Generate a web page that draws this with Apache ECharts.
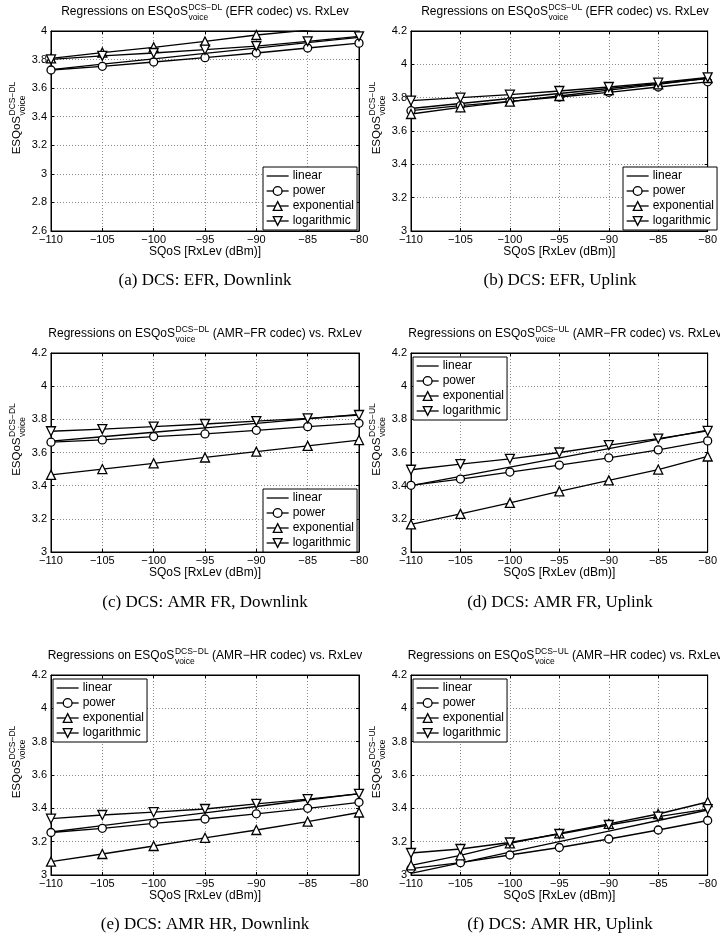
<!DOCTYPE html>
<html>
<head>
<meta charset="utf-8">
<script src="https://cdn.jsdelivr.net/npm/echarts@6.0.0/dist/echarts.min.js"></script>
<style>
  html, body { margin: 0; padding: 0; background: #fff; }
  #chart { width: 720px; height: 945px; }
</style>
</head>
<body>
<div id="chart"></div>
<script>
/* x positions shared by every panel */
const rxLev = [-110, -105, -100, -95, -90, -85, -80];

/* (a) EFR, downlink */
const efrDlLinear = [3.73, 3.768, 3.805, 3.843, 3.88, 3.918, 3.955];
const efrDlPower  = [3.727, 3.753, 3.783, 3.813, 3.846, 3.881, 3.915];
const efrDlExp    = [3.808, 3.849, 3.886, 3.927, 3.972, 4.006, 4.05];
const efrDlLog    = [3.801, 3.826, 3.846, 3.869, 3.894, 3.928, 3.963];

/* (b) EFR, uplink */
const efrUlLinear = [3.735, 3.765, 3.795, 3.825, 3.855, 3.885, 3.915];
const efrUlPower  = [3.722, 3.752, 3.778, 3.804, 3.832, 3.864, 3.895];
const efrUlExp    = [3.702, 3.742, 3.776, 3.81, 3.845, 3.88, 3.918];
const efrUlLog    = [3.782, 3.8, 3.818, 3.84, 3.864, 3.89, 3.922];

/* (c) AMR FR, downlink */
const fullDlLinear = [3.668, 3.695, 3.722, 3.749, 3.776, 3.803, 3.83];
const fullDlPower  = [3.662, 3.676, 3.696, 3.712, 3.734, 3.756, 3.776];
const fullDlExp    = [3.465, 3.5, 3.535, 3.57, 3.605, 3.64, 3.675];
const fullDlLog    = [3.728, 3.741, 3.756, 3.772, 3.789, 3.806, 3.826];

/* (d) AMR FR, uplink */
const fullUlLinear = [3.4, 3.456, 3.512, 3.568, 3.623, 3.679, 3.735];
const fullUlPower  = [3.402, 3.44, 3.482, 3.524, 3.568, 3.616, 3.67];
const fullUlExp    = [3.166, 3.23, 3.296, 3.366, 3.432, 3.497, 3.576];
const fullUlLog    = [3.496, 3.53, 3.562, 3.6, 3.645, 3.684, 3.73];

/* (e) AMR HR, downlink */
const halfDlLinear = [3.258, 3.296, 3.335, 3.373, 3.411, 3.45, 3.488];
const halfDlPower  = [3.255, 3.28, 3.31, 3.336, 3.367, 3.4, 3.436];
const halfDlExp    = [3.08, 3.126, 3.174, 3.223, 3.27, 3.32, 3.375];
const halfDlLog    = [3.338, 3.36, 3.377, 3.396, 3.427, 3.455, 3.487];

/* (f) AMR HR, uplink */
const halfUlLinear = [3.01, 3.073, 3.137, 3.2, 3.263, 3.327, 3.39];
const halfUlPower  = [3.038, 3.074, 3.12, 3.165, 3.216, 3.27, 3.327];
const halfUlExp    = [3.058, 3.118, 3.19, 3.25, 3.307, 3.366, 3.438];
const halfUlLog    = [3.132, 3.156, 3.195, 3.246, 3.3, 3.35, 3.395];

const fitNames = ['linear', 'power', 'exponential', 'logarithmic'];

const panels = [
  { codec: 'EFR',     dir: 'DL', caption: '(a) DCS: EFR, Downlink',    yMin: 2.6, yMax: 4,   fits: [efrDlLinear, efrDlPower, efrDlExp, efrDlLog] },
  { codec: 'EFR',     dir: 'UL', caption: '(b) DCS: EFR, Uplink',      yMin: 3,   yMax: 4.2, fits: [efrUlLinear, efrUlPower, efrUlExp, efrUlLog] },
  { codec: 'AMR−FR',  dir: 'DL', caption: '(c) DCS: AMR FR, Downlink', yMin: 3,   yMax: 4.2, fits: [fullDlLinear, fullDlPower, fullDlExp, fullDlLog] },
  { codec: 'AMR−FR',  dir: 'UL', caption: '(d) DCS: AMR FR, Uplink',   yMin: 3,   yMax: 4.2, fits: [fullUlLinear, fullUlPower, fullUlExp, fullUlLog] },
  { codec: 'AMR−HR',  dir: 'DL', caption: '(e) DCS: AMR HR, Downlink', yMin: 3,   yMax: 4.2, fits: [halfDlLinear, halfDlPower, halfDlExp, halfDlLog] },
  { codec: 'AMR−HR',  dir: 'UL', caption: '(f) DCS: AMR HR, Uplink',   yMin: 3,   yMax: 4.2, fits: [halfUlLinear, halfUlPower, halfUlExp, halfUlLog] }
];

const boxes = [
  { left: 51,  top: 31,  width: 308, height: 200, legend: [263, 167], capX: 205 },
  { left: 411, top: 31,  width: 308, height: 200, legend: [623, 167], capX: 560 },
  { left: 51,  top: 353, width: 308, height: 199, legend: [263, 489], capX: 205 },
  { left: 411, top: 353, width: 308, height: 199, legend: [413, 357], capX: 560 },
  { left: 51,  top: 675, width: 308, height: 200, legend: [53, 679],  capX: 205 },
  { left: 411, top: 675, width: 308, height: 200, legend: [413, 679], capX: 560 }
];

const SANS = '"Liberation Sans", Arial, Helvetica, sans-serif';
const SERIF = '"Liberation Serif", "Times New Roman", serif';
const MINUS = '\u2212';
const LW = 1.3;   // line / marker stroke

/* canvas text metrics, so the sub/superscripts can be placed by hand */
const meas = document.createElement('canvas').getContext('2d');
function textWidth(str, size, family) {
  meas.font = size + 'px ' + (family || SANS);
  return meas.measureText(str).width;
}

function txt(str, x, y, size, family) {
  return {
    type: 'text', x: x, y: y, silent: true,
    style: {
      text: str, font: size + 'px ' + (family || SANS), fill: '#000',
      align: 'left', verticalAlign: 'middle',
      textAlign: 'left', textVerticalAlign: 'middle'
    }
  };
}

/* "pre" + stacked sup/sub + "post", origin at left edge / text middle */
function scripted(pre, sup, sub, post, main, small) {
  const wPre = textWidth(pre, main);
  const wScr = Math.max(textWidth(sup, small), textWidth(sub, small));
  const children = [
    txt(pre, 0, 0, main),
    txt(sup, wPre + 0.5, -4.5, small),
    txt(sub, wPre + 0.5, 5.5, small)
  ];
  let width = wPre + 0.5 + wScr;
  if (post) {
    const gap = textWidth(' ', main);
    children.push(txt(post, width + gap, 0, main));
    width += gap + textWidth(post, main);
  }
  return { width: width, children: children };
}

const grid = [], xAxis = [], yAxis = [], series = [], legend = [], graphic = [];

const tickStyle = { inside: true, length: 3, lineStyle: { color: '#000', width: 1 } };
const lineAxis = { show: true, onZero: false, lineStyle: { color: '#000', width: 1 } };
const gridLine = { show: true, lineStyle: { color: '#8a8a8a', width: 1, type: [1, 2] } };

panels.forEach((p, i) => {
  const b = boxes[i];
  grid.push({
    left: b.left, top: b.top, width: b.width, height: b.height,
    show: true, borderColor: '#000', borderWidth: 1, backgroundColor: '#fff'
  });

  xAxis.push({
    gridIndex: i, type: 'value', position: 'bottom',
    min: -110, max: -80, interval: 5,
    axisLine: lineAxis, axisTick: tickStyle, splitLine: gridLine,
    axisLabel: {
      margin: 3, color: '#000', fontSize: 11, fontFamily: SANS,
      formatter: v => String(v).replace('-', MINUS)
    },
    name: 'SQoS [RxLev (dBm)]', nameLocation: 'middle', nameGap: 13,
    nameTextStyle: { color: '#000', fontSize: 12, fontFamily: SANS }
  });
  xAxis.push({
    gridIndex: i, type: 'value', position: 'top',
    min: -110, max: -80, interval: 5,
    axisLine: lineAxis, axisTick: tickStyle,
    axisLabel: { show: false }, splitLine: { show: false }
  });

  yAxis.push({
    gridIndex: i, type: 'value', position: 'left',
    min: p.yMin, max: p.yMax, interval: 0.2,
    axisLine: lineAxis, axisTick: tickStyle, splitLine: gridLine,
    axisLabel: {
      margin: 4, color: '#000', fontSize: 11, fontFamily: SANS,
      formatter: v => String(+v.toFixed(1))
    }
  });
  yAxis.push({
    gridIndex: i, type: 'value', position: 'right',
    min: p.yMin, max: p.yMax, interval: 0.2,
    axisLine: lineAxis, axisTick: tickStyle,
    axisLabel: { show: false }, splitLine: { show: false }
  });

  p.fits.forEach((vals, k) => {
    series.push({
      type: 'line', name: fitNames[k],
      xAxisIndex: 2 * i, yAxisIndex: 2 * i,
      data: rxLev.map((x, j) => [x, vals[j]]),
      symbol: k === 0 ? 'none' : (k === 1 ? 'circle' : 'triangle'),
      symbolSize: k === 1 ? 8 : 9,
      symbolRotate: k === 3 ? 180 : 0,
      showSymbol: k !== 0,
      lineStyle: { color: '#000', width: LW },
      itemStyle: { color: '#fff', borderColor: '#000', borderWidth: LW },
      z: 2 + k,
      clip: true,
      emphasis: { disabled: true }
    });
  });

  legend.push({
    orient: 'vertical', left: b.legend[0], top: b.legend[1],
    data: [{ name: 'linear', itemStyle: { opacity: 0 } }, 'power', 'exponential', 'logarithmic'],
    itemWidth: 22, itemHeight: 11, itemGap: 3,
    padding: [3, 3, 3, 3],
    borderColor: '#000', borderWidth: 1, backgroundColor: '#fff',
    selectedMode: false, z: 10,
    itemStyle: { color: '#fff', borderColor: '#000', borderWidth: LW },
    lineStyle: { color: '#000', width: LW },
    textStyle: { color: '#000', fontSize: 12, fontFamily: SANS, padding: [0, 0, 0, -1] }
  });

  /* panel title with stacked super/subscript */
  const cx = b.left + b.width / 2;
  const title = scripted('Regressions on ESQoS', 'DCS' + MINUS + p.dir, 'voice',
    '(' + p.codec + ' codec) vs. RxLev', 12, 8.5);
  graphic.push({
    type: 'group', x: cx - title.width / 2, y: b.top - 19,
    silent: true, children: title.children
  });

  /* rotated y-axis name */
  const yl = scripted('ESQoS', 'DCS' + MINUS + p.dir, 'voice', '', 11.5, 8.5);
  const cy = b.top + b.height / 2 - 13;
  graphic.push({
    type: 'group', x: b.left - 34, y: cy + yl.width / 2,
    rotation: Math.PI / 2, silent: true, children: yl.children
  });

  /* sub-figure caption */
  graphic.push({
    type: 'text', x: b.capX, y: b.top + 250, silent: true,
    style: {
      text: p.caption, font: '17px ' + SERIF, fill: '#000',
      align: 'center', verticalAlign: 'middle',
      textAlign: 'center', textVerticalAlign: 'middle'
    }
  });
});

const chart = echarts.init(document.getElementById('chart'), null, { renderer: 'canvas' });
chart.setOption({
  animation: false,
  backgroundColor: '#fff',
  textStyle: { fontFamily: SANS },
  grid: grid,
  xAxis: xAxis,
  yAxis: yAxis,
  legend: legend,
  series: series,
  graphic: graphic
});
</script>
</body>
</html>
